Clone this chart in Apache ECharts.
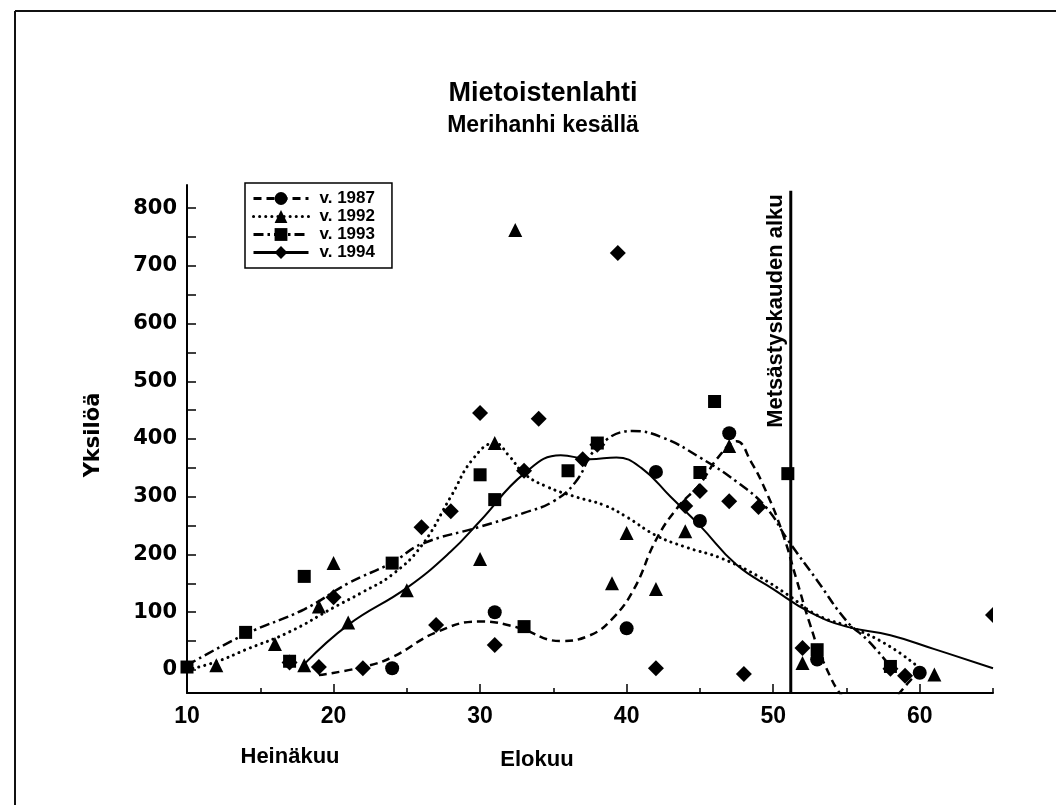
<!DOCTYPE html>
<html>
<head>
<meta charset="utf-8">
<title>Mietoistenlahti – Merihanhi kesällä</title>
<script src="https://cdn.jsdelivr.net/npm/echarts@6/dist/echarts.min.js"></script>
<style>
  html, body { margin: 0; padding: 0; background: #fff; }
  #chart { width: 1056px; height: 812px; }
</style>
</head>
<body>
<div id="chart"></div>
<script>
// Series names (legend)
const years = ['v. 1987', 'v. 1992', 'v. 1993', 'v. 1994'];

// Observed counts: [week, birds]
const obs1987 = [[24, 3], [31, 100], [40, 72], [42, 343], [45, 258], [47, 410], [53, 18], [60, -5]];
const obs1992 = [[12, 8], [16, 45], [18, 8], [19, 110], [20, 185], [21, 82], [25, 138], [30, 192],
                 [31, 393], [32.4, 762], [39, 150], [40, 237], [42, 140], [44, 240], [47, 388], [52, 12], [61, -8]];
const obs1993 = [[10, 5], [14, 65], [17, 15], [18, 162], [24, 185], [30, 338], [31, 295], [33, 75],
                 [36, 345], [38, 393], [45, 342], [46, 465], [51, 340], [53, 35], [58, 6]];
const obs1994 = [[17, 13], [19, 5], [20, 126], [22, 3], [26, 247], [27, 78], [28, 275], [30, 445],
                 [31, 43], [33, 345], [34, 435], [37, 365], [38, 390], [39.4, 722], [42, 3], [44, 284],
                 [45, 310], [47, 292], [48, -7], [49, 282], [52, 38], [58, 2], [59, -10], [65, 95]];

// Fitted seasonal curves: [week, birds]
const fit1987 = [[19, -9], [22, 5], [24, 22], [27, 65], [30, 84], [32.5, 74], [35.5, 50], [37.5, 60],
                 [39, 88], [40.5, 140], [42, 225], [43.5, 282], [45, 322], [46.3, 370], [47.5, 396],
                 [48.5, 360], [49.5, 310], [50.6, 240], [51.6, 156], [52.5, 80], [53.5, 10], [55, -55],
                 [56.5, -80], [58, -55], [59.3, -20], [60, 0]];
const fit1992 = [[10, 0], [12, 14], [14, 35], [17, 66], [20, 108], [22, 135], [24, 165], [26, 215],
                 [28, 300], [29.5, 365], [31, 393], [32, 370], [33, 340], [34.5, 318], [36.5, 300],
                 [38.5, 285], [40, 265], [42, 233], [44, 213], [46.5, 193], [49, 162], [51, 130],
                 [53, 95], [55.5, 72], [58, 40], [60, 3]];
const fit1993 = [[10, 8], [14, 62], [18, 105], [21, 150], [24, 186], [26, 218], [30, 248], [33, 272],
                 [35, 292], [36.5, 325], [38, 385], [40.4, 414], [42.5, 402], [45, 368], [47.5, 326],
                 [49.5, 282], [51, 225], [53, 155], [55, 85], [56.5, 50], [58, 6]];
const fit1994 = [[18, 10], [21, 78], [25, 142], [28, 205], [30, 258], [33, 340], [35.5, 372], [37.5, 365],
                 [39.3, 368], [41, 350], [43, 300], [45, 250], [47.5, 182], [50, 140], [52.5, 100],
                 [55, 75], [58, 60], [61, 36], [65, 3]];

// Start of the hunting season (week) and the extent of its marker line
const huntStartWeek = 51.2;
const huntLineSpan = [-40, 830];

// Axis ranges, ticks and labels
const xRange = [10, 65];
const yRange = [-40, 840];
const xLabels = [10, 20, 30, 40, 50, 60];
const xTicks = [10, 15, 20, 25, 30, 35, 40, 45, 50, 55, 60, 65];
const xMajorTicks = [20, 30, 40, 50, 60];
const yLabels = [0, 100, 200, 300, 400, 500, 600, 700, 800];
const yTicks = [0, 50, 100, 150, 200, 250, 300, 350, 400, 450, 500, 550, 600, 650, 700, 750, 800];

const observations = [obs1987, obs1992, obs1993, obs1994];
const fits = [fit1987, fit1992, fit1993, fit1994];
const symbols = ['circle', 'triangle', 'rect', 'diamond'];
const symbolSizes = [14, 14, 13, 16];
const dashes = [[8, 5], [0.1, 6], [10, 4, 2.5, 4], 'solid'];
const lineWidths = [2.5, 3, 2.5, 2];

const INK = '#000';
const SANS = '"Liberation Sans", Arial, sans-serif';

// A marker sitting on the right edge of the plot only shows its inner half.
const LEFT_HALF_DIAMOND = 'path://M2,0 L0,1 L2,2 Z';
function observationItems(points, i) {
  return points.map(p => {
    if (p[0] >= xRange[1] && symbols[i] === 'diamond') {
      const s = symbolSizes[i];
      return { value: p, symbol: LEFT_HALF_DIAMOND, symbolSize: [s / 2, s], symbolOffset: [-s / 4, 0] };
    }
    return p;
  });
}

const series = [];
years.forEach((name, i) => {
  series.push({
    name: name,
    type: 'line',
    data: fits[i],
    smooth: 0.45,
    showSymbol: false,
    symbol: symbols[i],
    symbolSize: symbolSizes[i],
    color: INK,
    itemStyle: { color: INK, opacity: 1 },
    lineStyle: { color: INK, width: lineWidths[i], type: dashes[i], cap: i === 1 ? 'round' : 'butt' },
    silent: true,
    z: 2
  });
});
years.forEach((name, i) => {
  series.push({
    name: name + ' havainnot',
    type: 'scatter',
    data: observationItems(observations[i], i),
    symbol: symbols[i],
    symbolSize: symbolSizes[i],
    itemStyle: { color: INK, opacity: 1 },
    silent: true,
    z: 4
  });
});
series.push({
  name: 'Metsästyskauden alku',
  type: 'line',
  data: huntLineSpan.map(v => [huntStartWeek, v]),
  symbol: 'none',
  lineStyle: { color: INK, width: 3 },
  silent: true,
  z: 3
});

const chart = echarts.init(document.getElementById('chart'), null, { renderer: 'canvas' });
chart.setOption({
  backgroundColor: '#fff',
  animation: false,
  grid: { left: 187, right: 63, top: 185, bottom: 119, containLabel: false },
  legend: {
    data: years,
    orient: 'vertical',
    left: 245,
    top: 183,
    padding: [7, 17, 7, 7],
    itemGap: 1,
    itemWidth: 55,
    itemHeight: 16,
    borderColor: INK,
    borderWidth: 1.5,
    selectedMode: false,
    lineStyle: { width: 3 },
    itemStyle: { opacity: 1 },
    textStyle: { fontFamily: SANS, fontWeight: 'bold', fontSize: 17, color: INK, lineHeight: 17, padding: [0, 0, 0, 6] }
  },
  xAxis: [{
    type: 'value',
    min: xRange[0],
    max: xRange[1],
    axisLine: { onZero: false, lineStyle: { color: INK, width: 2 } },
    axisTick: { show: true, inside: true, length: 5, customValues: xTicks, lineStyle: { color: INK, width: 1.5 } },
    axisLabel: { customValues: xLabels, fontFamily: SANS, fontWeight: 'bold', fontSize: 23, color: INK, margin: 12 },
    splitLine: { show: false }
  }, {
    type: 'value',
    min: xRange[0],
    max: xRange[1],
    position: 'bottom',
    axisLine: { show: false, onZero: false },
    axisTick: { show: true, inside: true, length: 9, customValues: xMajorTicks, lineStyle: { color: INK, width: 1.5 } },
    axisLabel: { show: false },
    splitLine: { show: false }
  }],
  yAxis: {
    type: 'value',
    min: yRange[0],
    max: yRange[1],
    axisLine: { show: true, onZero: false, lineStyle: { color: INK, width: 2 } },
    axisTick: { show: true, inside: true, length: 9, customValues: yTicks, lineStyle: { color: INK, width: 1.5 } },
    axisLabel: { customValues: yLabels, fontFamily: '"DejaVu Sans", sans-serif', fontWeight: 'bold', fontSize: 21, color: INK, margin: 10 },
    splitLine: { show: false }
  },
  graphic: [
    // outer frame
    { type: 'line', shape: { x1: 15, y1: 11, x2: 1056, y2: 11 }, style: { stroke: '#111', lineWidth: 2 } },
    { type: 'line', shape: { x1: 15, y1: 11, x2: 15, y2: 805 }, style: { stroke: '#111', lineWidth: 2 } },
    // titles
    { type: 'text', x: 543, y: 94, style: { text: 'Mietoistenlahti', font: 'bold 27px ' + SANS, fill: INK, align: 'center', verticalAlign: 'middle' } },
    { type: 'text', x: 543, y: 126, style: { text: 'Merihanhi kesällä', font: 'bold 23px ' + SANS, fill: INK, align: 'center', verticalAlign: 'middle' } },
    // y-axis title
    { type: 'text', x: 94, y: 435, rotation: Math.PI / 2, style: { text: 'Yksilöä', font: 'bold 21px "DejaVu Sans", sans-serif', fill: INK, align: 'center', verticalAlign: 'middle' } },
    // month names under the x-axis
    { type: 'text', x: 290, y: 757, style: { text: 'Heinäkuu', font: 'bold 22px ' + SANS, fill: INK, align: 'center', verticalAlign: 'middle' } },
    { type: 'text', x: 537, y: 760, style: { text: 'Elokuu', font: 'bold 22px ' + SANS, fill: INK, align: 'center', verticalAlign: 'middle' } },
    // hunting season marker label
    { type: 'text', x: 776, y: 311, rotation: Math.PI / 2, style: { text: 'Metsästyskauden alku', font: 'bold 22px ' + SANS, fill: INK, align: 'center', verticalAlign: 'middle' } }
  ],
  series: series
});
</script>
</body>
</html>
